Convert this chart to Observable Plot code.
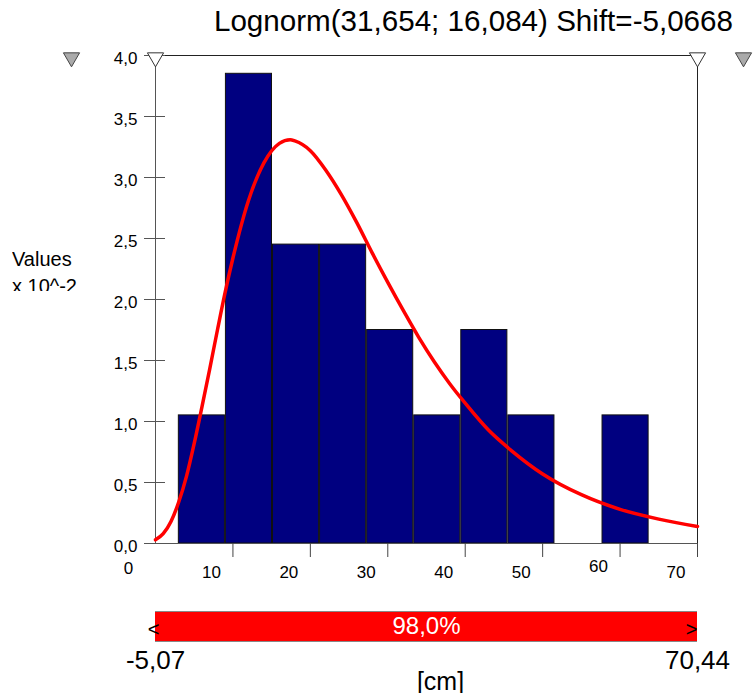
<!DOCTYPE html>
<html><head><meta charset="utf-8">
<script src="https://cdn.jsdelivr.net/npm/d3@7"></script>
<script src="https://cdn.jsdelivr.net/npm/@observablehq/plot@0.6"></script>
<style>
body{margin:0;background:#fff;font-family:"Liberation Sans",Arial,sans-serif;}
#wrap{position:relative;width:753px;height:693px;overflow:hidden;background:#fff;}
#title{height:42px;line-height:42px;font-size:29.6px;text-align:right;padding-right:20px;white-space:nowrap;color:#000;}
#ylab{position:absolute;left:12px;top:247px;height:44px;overflow:hidden;font-size:20px;line-height:25px;color:#000;white-space:nowrap;}
#ylab div + div{margin-top:2px;}
svg{display:block}
</style></head><body>
<div id="wrap"><div id="title"></div><div id="main"></div><div id="delim"></div><div id="ylab"></div></div>
<script>
// ---- data ----
const titleText = "Lognorm(31,654; 16,084) Shift=-5,0668";
const yLabelLines = ["Values", "x 10^-2"];
const binEdges = [2.95, 9.03, 15.11, 21.19, 27.27, 33.35, 39.43, 45.51, 51.59, 57.67, 63.75];
const binValues = [1.05, 3.85, 2.45, 2.45, 1.75, 1.05, 1.75, 1.05, 0, 1.05];
const curveX = [0, 1, 2, 3, 4, 5, 6, 7, 8, 9, 10, 12, 14, 16, 17.4, 18, 20, 22, 24, 26, 28, 30, 32, 34, 36, 38, 40, 43, 46, 50, 55, 60, 65, 70];
const curveY = [0.03, 0.08, 0.18, 0.34, 0.55, 0.82, 1.12, 1.43, 1.75, 2.06, 2.34, 2.81, 3.12, 3.28, 3.31, 3.30, 3.22, 3.06, 2.86, 2.63, 2.38, 2.14, 1.91, 1.69, 1.49, 1.31, 1.15, 0.93, 0.76, 0.57, 0.40, 0.28, 0.20, 0.14];
const yTicks = [0, 0.5, 1, 1.5, 2, 2.5, 3, 3.5, 4];
const xTicks = [10, 20, 30, 40, 50, 60, 70];
const xLabelValues = [0, 10, 20, 30, 40, 50, 60, 70];
const xTickLabels = ["0", "10", "20", "30", "40", "50", "60", "70"];
const xDomain = [0, 70];
const yDomain = [0, 4];
const delimiterLabels = ["-5,07", "70,44"];
const delimiterPercent = "98,0%";
const unitLabel = "[cm]";

// ---- build ----
document.getElementById("title").textContent = titleText;
document.getElementById("ylab").innerHTML = yLabelLines.map(s => `<div>${s}</div>`).join("");

const bins = binValues.map((v, i) => ({x1: binEdges[i], x2: binEdges[i + 1], y: v})).filter(d => d.y > 0);
const curve = curveX.map((x, i) => ({x, y: curveY[i]}));
const fmt = d => d.toFixed(1).replace(".", ",");
const xLabels = xLabelValues.map((v, i) => ({v, t: xTickLabels[i]}));
const font = "'Liberation Sans', Arial, sans-serif";

const main = Plot.plot({
  width: 753, height: 560,
  marginTop: 13, marginBottom: 59, marginLeft: 155, marginRight: 56,
  x: {domain: xDomain, axis: null},
  y: {domain: yDomain, axis: null},
  style: {fontSize: "17px", fontFamily: font, color: "#000", background: "#fff", overflow: "visible"},
  marks: [
    Plot.rect(bins, {x1: "x1", x2: "x2", y1: 0, y2: "y", fill: "#000080", stroke: "#111", strokeWidth: 1, insetLeft: 0.5, insetRight: 0.5}),
    Plot.ruleX([xDomain[0]], {stroke: "#555"}),
    Plot.ruleY([yDomain[0]], {stroke: "#555"}),
    Plot.ruleY([yDomain[1]], {stroke: "#222"}),
    Plot.ruleX([xDomain[1]], {stroke: "#222"}),
    Plot.line(curve, {x: "x", y: "y", stroke: "#ff0000", strokeWidth: 3.5, curve: "monotone-x"}),
    Plot.axisY({ticks: yTicks, tickSize: 11, tickFormat: () => "", stroke: "#555", label: null}),
    Plot.axisY({ticks: yTicks, tickSize: -10, tickFormat: () => "", stroke: "#555", label: null}),
    Plot.text(yTicks, {y: d => d, text: fmt, frameAnchor: "left", textAnchor: "end", dx: -18, dy: 3, fill: "#000"}),
    Plot.axisX({ticks: xTicks, tickSize: 14, tickFormat: () => "", stroke: "#444", label: null}),
    Plot.text(xLabels.filter(d => d.v !== 0 && d.v !== 60), {x: "v", text: "t", frameAnchor: "bottom", dx: -21.5, dy: 34, fill: "#000"}),
    Plot.text(xLabels.filter(d => d.v === 0), {x: "v", text: "t", frameAnchor: "bottom", dx: -27, dy: 30, fill: "#000"}),
    Plot.text(xLabels.filter(d => d.v === 60), {x: "v", text: "t", frameAnchor: "bottom", dx: -21.5, dy: 28, fill: "#000"}),
    Plot.dot(xDomain, {x: d => d, frameAnchor: "top", symbol: "triangle", rotate: 180, r: 6, fill: "#fff", stroke: "#333", strokeWidth: 1, dy: 2}),
    Plot.dot([xDomain[0]], {x: d => d, frameAnchor: "top", symbol: "triangle", rotate: 180, r: 6, fill: "#aaa", stroke: "#444", strokeWidth: 1, dy: 2, dx: -84}),
    Plot.dot([xDomain[1]], {x: d => d, frameAnchor: "top", symbol: "triangle", rotate: 180, r: 6, fill: "#aaa", stroke: "#444", strokeWidth: 1, dy: 2, dx: 46})
  ]
});
document.getElementById("main").appendChild(main);

const delim = Plot.plot({
  width: 753, height: 91,
  marginTop: 9, marginBottom: 52, marginLeft: 155, marginRight: 56,
  x: {domain: xDomain, axis: null},
  y: {domain: [0, 1], axis: null},
  style: {fontSize: "26px", fontFamily: font, color: "#000", background: "#fff", overflow: "visible"},
  marks: [
    Plot.rect([{x1: xDomain[0], x2: xDomain[1]}], {x1: "x1", x2: "x2", y1: 0, y2: 1, fill: "#ff0000"}),
    Plot.ruleY([0, 1], {x1: xDomain[0], x2: xDomain[1], stroke: "#888"}),
    Plot.text([xDomain[0]], {x: d => d, y: 0.5, text: () => "<", dx: -2, dy: 3, fontSize: 20, fill: "#000"}),
    Plot.text([xDomain[1]], {x: d => d, y: 0.5, text: () => ">", dx: -6, dy: 3, fontSize: 20, fill: "#000"}),
    Plot.text([(xDomain[0] + xDomain[1]) / 2], {x: d => d, y: 0.5, text: () => delimiterPercent, fontSize: 24, fill: "#fff"}),
    Plot.text(xDomain.map((v, i) => ({v, t: delimiterLabels[i]})), {x: "v", y: 0, text: "t", dy: 19, fill: "#000"}),
    Plot.text([(xDomain[0] + xDomain[1]) / 2], {x: d => d, y: 0, text: () => unitLabel, dx: 14, dy: 40, fontSize: 25, fill: "#000"})
  ]
});
document.getElementById("delim").appendChild(delim);
</script>
</body></html>
